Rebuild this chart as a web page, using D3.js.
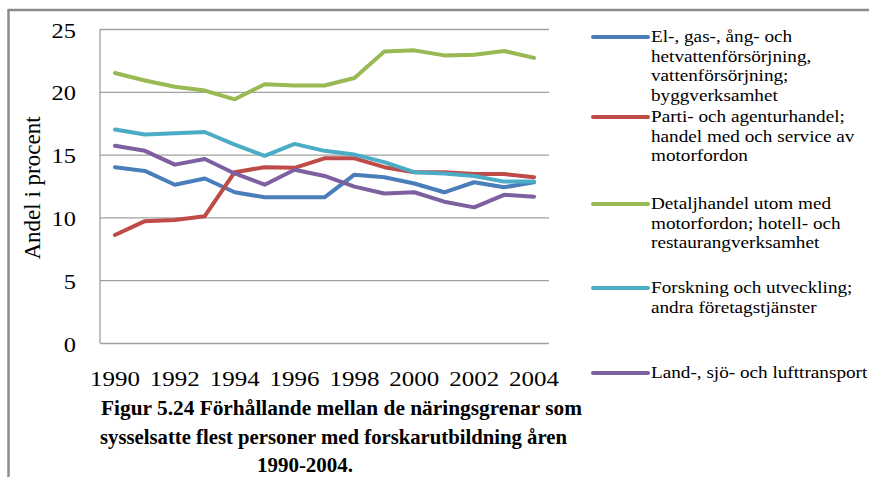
<!DOCTYPE html>
<html>
<head>
<meta charset="utf-8">
<script src="https://cdn.jsdelivr.net/npm/d3@7"></script>
<style>
  html, body { margin: 0; padding: 0; background: #fff; }
  svg { display: block; }
</style>
</head>
<body>
<svg id="chart" width="869" height="477"></svg>
<script>
// ---- data ----
const years = [1990,1991,1992,1993,1994,1995,1996,1997,1998,1999,2000,2001,2002,2003,2004];
const tickYears = [1990,1992,1994,1996,1998,2000,2002,2004];
const yTicks = [0,5,10,15,20,25];

const seriesNames = [
  ["El-, gas-, ång- och", "hetvattenförsörjning,", "vattenförsörjning;", "byggverksamhet"],
  ["Parti- och agenturhandel;", "handel med och service av", "motorfordon"],
  ["Detaljhandel utom med", "motorfordon; hotell- och", "restaurangverksamhet"],
  ["Forskning och utveckling;", "andra företagstjänster"],
  ["Land-, sjö- och lufttransport"]
];
const elGas      = [14.0, 13.7, 12.6, 13.1, 12.0, 11.6, 11.6, 11.6, 13.4, 13.2, 12.7, 12.0, 12.8, 12.4, 12.8];
const partihandel= [8.6, 9.7, 9.8, 10.1, 13.6, 14.0, 13.95, 14.7, 14.7, 14.0, 13.6, 13.6, 13.45, 13.45, 13.2];
const detaljhandel=[21.5, 20.9, 20.4, 20.1, 19.4, 20.6, 20.5, 20.5, 21.1, 23.2, 23.3, 22.9, 22.95, 23.25, 22.7];
const forskning  = [17.0, 16.6, 16.7, 16.8, 15.8, 14.9, 15.85, 15.3, 15.0, 14.4, 13.6, 13.5, 13.3, 12.85, 12.85];
const transport  = [15.7, 15.3, 14.2, 14.65, 13.5, 12.6, 13.8, 13.3, 12.45, 11.9, 12.0, 11.25, 10.8, 11.8, 11.65];
const seriesValues = [elGas, partihandel, detaljhandel, forskning, transport];
const colors = ["#4a7ebb", "#be4b48", "#98b954", "#4bacc6", "#7d60a0"];

const titleLines = [
  "Figur 5.24 Förhållande mellan de näringsgrenar som",
  "sysselsatte flest personer med forskarutbildning åren",
  "1990-2004."
];
const yTitle = "Andel i procent";

// ---- layout ----
const FONT = "'Liberation Serif', 'Times New Roman', serif";
const svg = d3.select("#chart");
const plot = {left: 100, right: 549, top: 29, bottom: 343};

// outer frame
svg.append("line").attr("x1", 8).attr("x2", 869).attr("y1", 10).attr("y2", 10)
  .attr("stroke", "#8c8c8c").attr("stroke-width", 2.5);
svg.append("line").attr("x1", 8.5).attr("x2", 8.5).attr("y1", 9).attr("y2", 477)
  .attr("stroke", "#8c8c8c").attr("stroke-width", 2.5);

const x = d3.scaleBand().domain(years).range([plot.left, plot.right]);
const xc = d => x(d) + x.bandwidth() / 2;
const y = d3.scaleLinear().domain([0, 25]).range([plot.bottom, plot.top]);

// gridlines
const grid = svg.append("g").attr("transform", `translate(${plot.left},0)`)
  .call(d3.axisLeft(y).tickValues(yTicks).tickSize(-(plot.right - plot.left)).tickFormat(""));
grid.select(".domain").remove();
grid.selectAll(".tick line").attr("stroke", "#a0a0a0").attr("stroke-width", 1.3);

// left axis line
svg.append("line").attr("x1", plot.left).attr("x2", plot.left)
  .attr("y1", plot.top).attr("y2", plot.bottom).attr("stroke", "#a0a0a0").attr("stroke-width", 1.3);

// y labels
const yAx = svg.append("g").attr("transform", `translate(76,0)`)
  .call(d3.axisLeft(y).tickValues(yTicks).tickSize(0).tickPadding(0).tickFormat(d3.format("d")));
yAx.attr("font-family", FONT);
yAx.select(".domain").remove();
yAx.selectAll("text").attr("font-size", 20).attr("font-family", FONT)
  .attr("dy", "0.4em").attr("text-anchor", "end").attr("transform", "scale(1.22,1)");

// x labels
const xAx = svg.append("g").attr("transform", `translate(0,${plot.bottom})`)
  .call(d3.axisBottom(x).tickValues(tickYears).tickSize(0).tickPadding(0));
xAx.attr("font-family", FONT);
xAx.select(".domain").remove();
xAx.selectAll("text").attr("font-size", 20).attr("font-family", FONT)
  .attr("dy", 43).attr("y", 0).attr("transform", "scale(1.25,1)");

// y title
svg.append("text").attr("transform", "translate(40,188) rotate(-90)")
  .attr("text-anchor", "middle").attr("font-family", FONT).attr("font-size", 23).text(yTitle);

// lines
const line = d3.line().x((d, i) => xc(years[i])).y(d => y(d));
seriesValues.forEach((vals, k) => {
  svg.append("path").datum(vals).attr("d", line).attr("fill", "none")
    .attr("stroke", colors[k]).attr("stroke-width", 4)
    .attr("stroke-linejoin", "round").attr("stroke-linecap", "round");
});

// legend
const legendCenters = [37, 117, 204, 288, 373];
const lh = 19.5;
seriesNames.forEach((lines, k) => {
  const cy = legendCenters[k];
  svg.append("line").attr("x1", 593).attr("x2", 648).attr("y1", cy).attr("y2", cy)
    .attr("stroke", colors[k]).attr("stroke-width", 4).attr("stroke-linecap", "round");
  lines.forEach((t, j) => {
    svg.append("text").attr("transform", `translate(651,${cy + 5 + j * lh}) scale(1.2,1)`)
      .attr("font-family", FONT).attr("font-size", 16).text(t);
  });
});

// title
const titlePos = [[101, 415, 481], [100, 444, 467]];
titleLines.forEach((t, i) => {
  const tx = svg.append("text").attr("font-family", FONT)
    .attr("font-size", 21).attr("font-weight", "bold").text(t);
  if (i < 2) {
    tx.attr("x", titlePos[i][0]).attr("y", titlePos[i][1])
      .attr("textLength", titlePos[i][2]).attr("lengthAdjust", "spacingAndGlyphs");
  } else {
    tx.attr("x", 305).attr("y", 472).attr("text-anchor", "middle");
  }
});
</script>
</body>
</html>
